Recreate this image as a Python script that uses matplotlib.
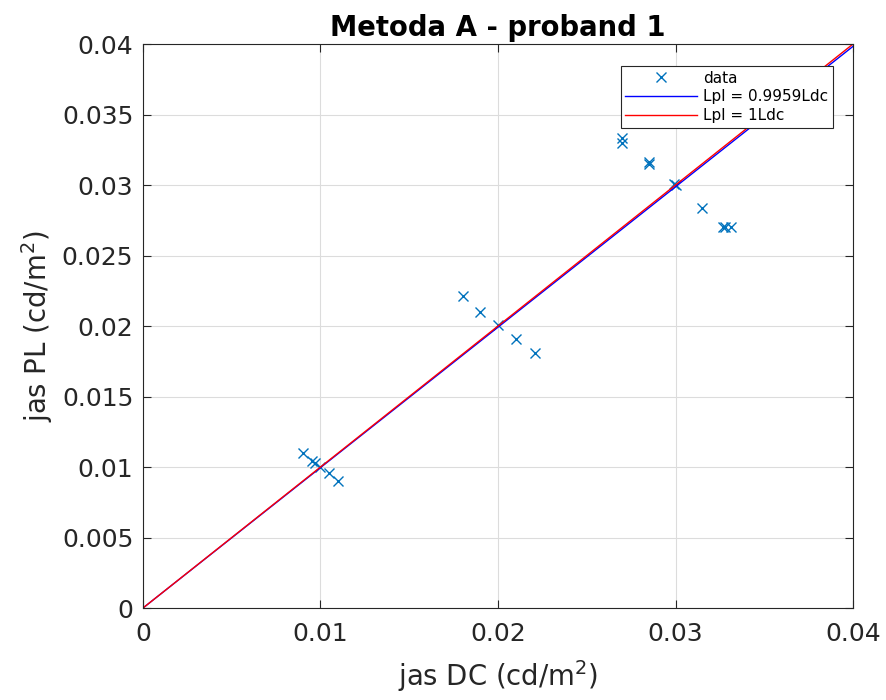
import matplotlib
matplotlib.use("Agg")
import matplotlib.pyplot as plt
import numpy as np

# Data (jas DC, jas PL) in cd/m^2
ldc = [0.0090, 0.0095, 0.0097, 0.0100, 0.0105, 0.0110,
       0.0180, 0.0190, 0.0200, 0.0210, 0.0221,
       0.0270, 0.0270, 0.0285, 0.0285, 0.0299, 0.0300,
       0.0315, 0.0327, 0.0328, 0.0331]
lpl = [0.0110, 0.0104, 0.0103, 0.0100, 0.0096, 0.0090,
       0.0221, 0.0210, 0.0201, 0.0191, 0.0181,
       0.0333, 0.0330, 0.0315, 0.0316, 0.0301, 0.0300,
       0.0284, 0.0270, 0.0270, 0.0270]
fit_slope = 0.9959
ref_slope = 1.0
line_x = [0.0, 0.04]

xticks = [0, 0.01, 0.02, 0.03, 0.04]
xticklabels = ["0", "0.01", "0.02", "0.03", "0.04"]
yticks = [0, 0.005, 0.01, 0.015, 0.02, 0.025, 0.03, 0.035, 0.04]
yticklabels = ["0", "0.005", "0.01", "0.015", "0.02", "0.025", "0.03", "0.035", "0.04"]

fig = plt.figure(figsize=(8.87, 7.0), dpi=100)
ax = fig.add_axes([0.1612, 0.1314, 0.8005, 0.8057])

tc = "#262626"
ax.plot(ldc, lpl, linestyle="none", marker="x", color="#0072BD",
        markersize=7.5, markeredgewidth=1.0, label="data")
lx = np.array(line_x)
ax.plot(lx, fit_slope * lx, color="blue", linewidth=1.0, label="Lpl = 0.9959Ldc")
ax.plot(lx, ref_slope * lx, color="red", linewidth=1.0, label="Lpl = 1Ldc")

ax.set_xlim(0, 0.04)
ax.set_ylim(0, 0.04)
ax.set_xticks(xticks)
ax.set_xticklabels(xticklabels)
ax.set_yticks(yticks)
ax.set_yticklabels(yticklabels)
ax.tick_params(direction="in", length=6, width=0.8, colors=tc, labelsize=18,
               top=True, right=True, labelcolor=tc, pad=7)
ax.tick_params(axis="x", pad=10)
ax.grid(True, color="#dcdcdc", linewidth=0.8)
ax.set_axisbelow(True)
for s in ax.spines.values():
    s.set_color(tc)
    s.set_linewidth(0.8)

ax.set_xlabel("jas DC (cd/m$^2$)", fontsize=19.8, color=tc, labelpad=9)
ax.set_ylabel("jas PL (cd/m$^2$)", fontsize=19.8, color=tc, labelpad=5)
ax.set_title("Metoda A - proband 1", fontsize=19.8, fontweight="bold", pad=6)

leg = ax.legend(loc="upper right", bbox_to_anchor=(0.9718, 0.961), fontsize=11,
                fancybox=False, framealpha=1, edgecolor=tc, borderpad=0.3,
                labelspacing=0.25, handlelength=4.7, handletextpad=0.4,
                borderaxespad=0)
leg.get_frame().set_linewidth(0.8)

fig.savefig("out.png", dpi=100)
